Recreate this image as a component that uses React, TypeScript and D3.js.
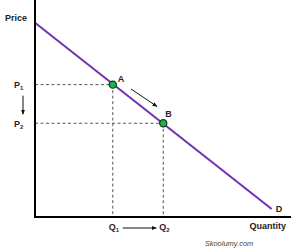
import React from "react";
import * as d3 from "d3";

const demandLine = [
  { q: 0, p: 89.5 },
  { q: 92.8, p: 3.7 },
];
const points = [
  { name: "A", q: 30.5, p: 61 },
  { name: "B", q: 50.3, p: 43.2 },
];
const priceLabels = ["P", "P"];
const priceSubs = ["1", "2"];
const qtyLabels = ["Q", "Q"];
const qtySubs = ["1", "2"];

const W = 300;
const H = 252;

export default function App() {
  const x = d3.scaleLinear().domain([0, 100]).range([35, 290]);
  const y = d3.scaleLinear().domain([0, 100]).range([217, 0]);
  const line = d3
    .line<{ q: number; p: number }>()
    .x((d) => x(d.q))
    .y((d) => y(d.p));
  const labelColor = "#3a1a2e";
  const font = "Liberation Sans, Arial, sans-serif";
  const A = points[0];
  const B = points[1];
  return (
    <svg
      width={W}
      height={H}
      style={{ position: "absolute", left: 0, top: 0, background: "#fff" }}
      fontFamily={font}
    >
      <defs>
        <marker id="ah" viewBox="0 0 10 10" refX="9" refY="5" markerWidth="5" markerHeight="5" orient="auto">
          <path d="M0,1 L10,5 L0,9 z" fill="#111" />
        </marker>
      </defs>
      {points.map((pt) => (
        <g key={pt.name}>
          <line x1={x(0)} x2={x(pt.q)} y1={y(pt.p)} y2={y(pt.p)} stroke="#555" strokeWidth={1} strokeDasharray="3,2.5" />
          <line x1={x(pt.q)} x2={x(pt.q)} y1={y(pt.p)} y2={y(0)} stroke="#555" strokeWidth={1} strokeDasharray="3,2.5" />
        </g>
      ))}
      <path d={line(demandLine) || ""} stroke="#7030b0" strokeWidth={2} fill="none" />
      <line x1={x(0)} x2={x(0)} y1={0} y2={y(0) + 1} stroke="#000" strokeWidth={2} />
      <line x1={x(0) - 1} x2={x(100) + 1} y1={y(0)} y2={y(0)} stroke="#000" strokeWidth={2} />
      {points.map((pt) => (
        <circle key={pt.name} cx={x(pt.q)} cy={y(pt.p)} r={3.6} fill="#1db34a" stroke="#0b3a18" strokeWidth={1.2} />
      ))}
      <text x={x(A.q) + 5} y={y(A.p) - 3} fontSize={9} fontWeight="bold" fill={labelColor}>A</text>
      <text x={x(B.q) + 2} y={y(B.p) - 6} fontSize={9} fontWeight="bold" fill={labelColor}>B</text>
      <line x1={131} y1={89} x2={157} y2={106.5} stroke="#111" strokeWidth={1} markerEnd="url(#ah)" />
      {points.map((pt, i) => (
        <text key={"p" + i} x={14} y={y(pt.p) + 3.5} fontSize={9} fontWeight="bold" fill={labelColor}>
          {priceLabels[i]}
          <tspan fontSize={6} dy={2}>{priceSubs[i]}</tspan>
        </text>
      ))}
      <line x1={23} x2={23} y1={y(A.p) + 11} y2={y(B.p) - 9} stroke="#111" strokeWidth={1} markerEnd="url(#ah)" />
      {points.map((pt, i) => (
        <text key={"q" + i} x={x(pt.q) - 4} y={y(0) + 13} fontSize={9} fontWeight="bold" fill={labelColor}>
          {qtyLabels[i]}
          <tspan fontSize={6} dy={2}>{qtySubs[i]}</tspan>
        </text>
      ))}
      <line x1={x(A.q) + 10} x2={x(B.q) - 7} y1={y(0) + 11} y2={y(0) + 11} stroke="#111" strokeWidth={1} markerEnd="url(#ah)" />
      <text x={5} y={21} fontSize={9} fontWeight="bold" fill="#222">Price</text>
      <text x={286} y={229} fontSize={9} fontWeight="bold" fill="#222" textAnchor="end">Quantity</text>
      <text x={x(92.8) + 4} y={y(3.7) + 3} fontSize={9} fontWeight="bold" fill="#222">D</text>
      <text x={229} y={246} fontSize={7.5} fontStyle="italic" fill="#444" textAnchor="middle">Skoolumy.com</text>
    </svg>
  );
}
